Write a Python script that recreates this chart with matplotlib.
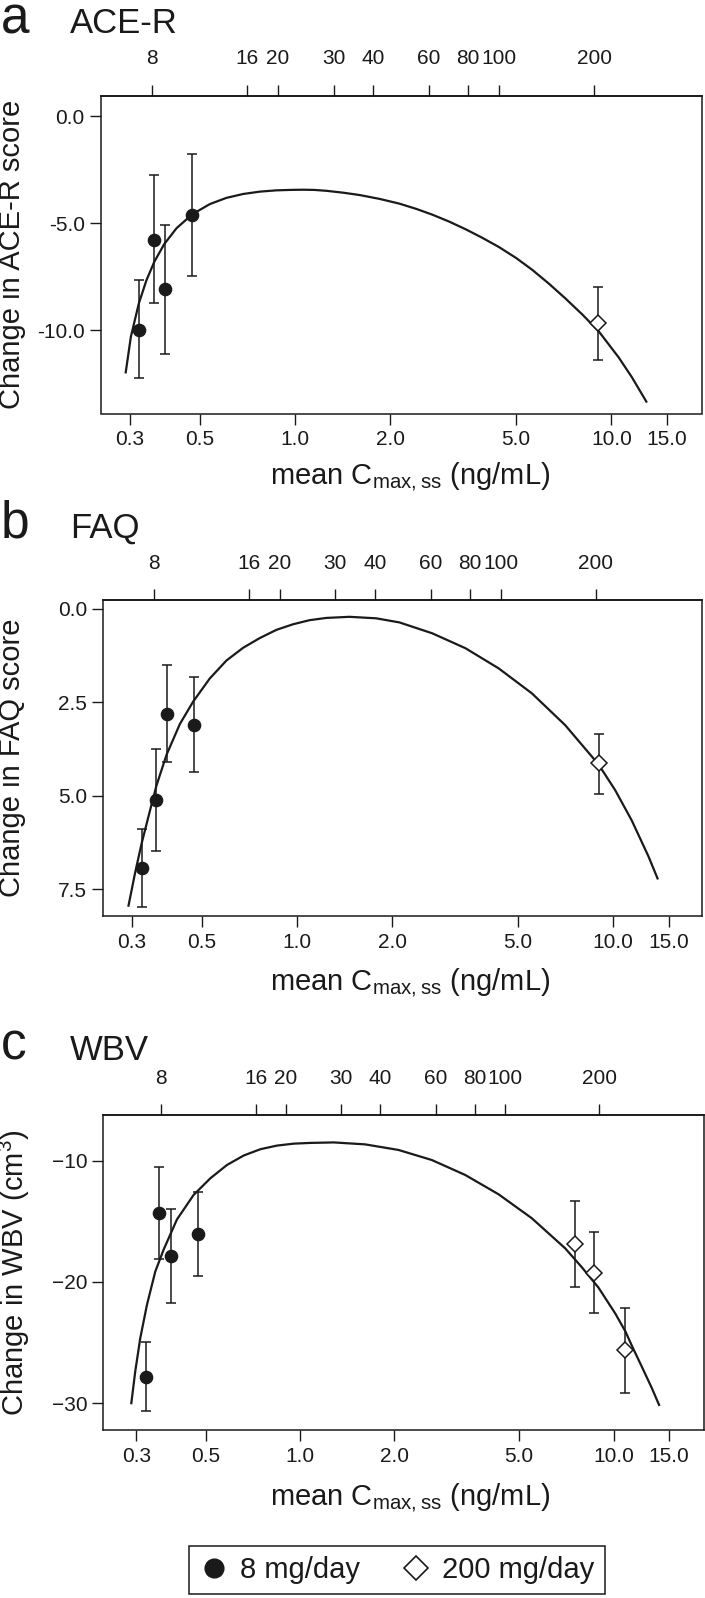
import numpy as np
import matplotlib
matplotlib.use("Agg")
import matplotlib.pyplot as plt
from matplotlib.lines import Line2D
from matplotlib.ticker import NullLocator

plt.rcParams['font.family'] = ['Liberation Sans', 'DejaVu Sans']
plt.rcParams['axes.linewidth'] = 1.1
plt.rcParams['mathtext.fontset'] = 'custom'
plt.rcParams['mathtext.rm'] = 'Liberation Sans'

INK = '#1a1a1a'
W, H = 705, 1598

# ---- data ----
dose_ticks = [8, 16, 20, 30, 40, 60, 80, 100, 200]
x_ticks = [0.3, 0.5, 1.0, 2.0, 5.0, 10.0, 15.0]
x_ticklabels = ['0.3', '0.5', '1.0', '2.0', '5.0', '10.0', '15.0']

# a: ACE-R
ace_low_x = [0.320, 0.358, 0.387, 0.471]
ace_low_y = [-10.0, -5.79, -8.08, -4.60]
ace_low_lo = [-12.21, -8.71, -11.09, -7.45]
ace_low_hi = [-7.66, -2.76, -5.09, -1.78]
ace_high_x = [9.05]
ace_high_y = [-9.66]
ace_high_lo = [-11.40]
ace_high_hi = [-7.98]
ace_curve_x = [0.2905, 0.302, 0.320, 0.338, 0.358, 0.385, 0.421, 0.472, 0.537, 0.606,
               0.684, 0.772, 0.871, 0.96, 1.057, 1.15, 1.253, 1.42, 1.60, 1.85,
               2.135, 2.42, 2.72, 3.07, 3.464, 3.9, 4.414, 5.0, 5.62, 6.35,
               7.16, 8.1, 9.12, 10.55, 11.62, 12.96]
ace_curve_y = [-12.02, -10.3, -8.75, -7.68, -6.81, -5.98, -5.24, -4.59, -4.11, -3.82,
               -3.64, -3.53, -3.47, -3.45, -3.44, -3.45, -3.49, -3.58, -3.69, -3.87,
               -4.09, -4.34, -4.61, -4.93, -5.29, -5.68, -6.12, -6.63, -7.18, -7.83,
               -8.52, -9.27, -10.05, -11.27, -12.2, -13.38]

# b: FAQ
faq_low_x = [0.3226, 0.358, 0.388, 0.472]
faq_low_y = [6.93, 5.12, 2.80, 3.11]
faq_low_lo = [5.90, 3.76, 1.50, 1.82]
faq_low_hi = [7.99, 6.47, 4.10, 4.37]
faq_high_x = [9.05]
faq_high_y = [4.13]
faq_high_lo = [3.34]
faq_high_hi = [4.95]
faq_curve_x = [0.2928, 0.3074, 0.3226, 0.3428, 0.3597, 0.387, 0.4263, 0.4696, 0.5301,
               0.5984, 0.6755, 0.7624, 0.8606, 0.9714, 1.096, 1.238, 1.466, 1.78, 2.109,
               2.676, 3.41, 4.345, 5.536, 7.053, 8.99, 10.15, 11.45, 12.93, 13.86]
faq_curve_y = [7.97, 7.08, 6.28, 5.40, 4.72, 3.90, 3.08, 2.48, 1.86,
               1.38, 1.04, 0.78, 0.56, 0.41, 0.30, 0.24, 0.21, 0.25, 0.36,
               0.65, 1.05, 1.59, 2.26, 3.11, 4.16, 4.85, 5.66, 6.62, 7.24]

# c: WBV
wbv_low_x = [0.3213, 0.3552, 0.388, 0.471]
wbv_low_y = [-27.80, -14.34, -17.86, -16.04]
wbv_low_lo = [-30.63, -18.08, -21.76, -19.51]
wbv_low_hi = [-24.95, -10.52, -13.96, -12.61]
wbv_high_x = [7.56, 8.635, 10.92]
wbv_high_y = [-16.90, -19.23, -25.63]
wbv_high_lo = [-20.41, -22.58, -29.12]
wbv_high_hi = [-13.32, -15.85, -22.14]
wbv_curve_x = [0.2891, 0.2978, 0.309, 0.3245, 0.345, 0.3667, 0.4046, 0.4573, 0.517,
               0.5843, 0.6607, 0.7468, 0.8443, 0.9545, 1.079, 1.281, 1.612, 2.06,
               2.632, 3.363, 4.295, 5.488, 7.013, 7.925, 8.957, 10.12, 10.92, 11.44,
               12.31, 13.26, 14.02]
wbv_curve_y = [-30.08, -27.39, -24.64, -21.9, -19.15, -17.35, -14.85, -12.83, -11.46,
               -10.36, -9.58, -9.06, -8.76, -8.60, -8.54, -8.50, -8.66, -9.12,
               -9.95, -11.18, -12.77, -14.75, -17.23, -18.79, -20.47, -22.58, -24.09, -25.25,
               -26.98, -28.76, -30.22]

fig = plt.figure(figsize=(W / 100, H / 100), dpi=100)


def px_rect(l, t, r, b):
    return [l / W, 1 - b / H, (r - l) / W, (b - t) / H]


def panel(box, xlim, ylim, k, yticks, ylabels, ylab, ylab_x, xlab_y,
          low, high, curve, letter, name, title_y):
    ax = fig.add_axes(px_rect(*box))
    ax.set_xscale('log')
    ax.set_xlim(*xlim)
    ax.set_ylim(*ylim)

    ax.plot(curve[0], curve[1], color=INK, lw=1.6, zorder=2,
            solid_capstyle='butt', solid_joinstyle='round')

    for (x, y, lo, hi), marker in ((low, 'o'), (high, 'D')):
        x = np.array(x); y = np.array(y)
        yerr = [y - np.array(lo), np.array(hi) - y]
        ax.errorbar(x, y, yerr=yerr, fmt='none', ecolor=INK, elinewidth=1.1,
                    capsize=3.5, capthick=1.1, zorder=3)
        if marker == 'o':
            ax.plot(x, y, 'o', ms=8.8, color=INK, zorder=4)
        else:
            ax.plot(x, y, 'D', ms=8.3, mfc='white', mec=INK, mew=1.1, zorder=4)

    ax.set_xticks(x_ticks, labels=x_ticklabels)
    ax.xaxis.set_minor_locator(NullLocator())
    ax.set_yticks(yticks, labels=ylabels)
    ax.tick_params(axis='both', direction='out', length=7.7, width=1.0,
                   labelsize=15, color=INK, labelcolor=INK)
    ax.tick_params(axis='x', pad=4.5)
    ax.tick_params(axis='y', pad=4)
    for s in ax.spines.values():
        s.set_color(INK)

    sec = ax.secondary_xaxis('top', functions=(lambda c, k=k: c / k,
                                               lambda d, k=k: d * k))
    sec.set_xticks(dose_ticks, labels=[str(d) for d in dose_ticks])
    sec.xaxis.set_minor_locator(NullLocator())
    sec.tick_params(direction='out', length=7.7, width=1.0, labelsize=15,
                    pad=12, color=INK, labelcolor=INK)
    sec.spines['top'].set_linewidth(1.1)

    l, t, r, b = box
    ax.set_xlabel(r'mean C$_{\mathregular{max,ss}}$ (ng/mL)', fontsize=21,
                  color=INK, va='center')
    ax.xaxis.set_label_coords((410 - l) / (r - l), -(xlab_y - b) / (b - t))
    ax.set_ylabel(ylab, fontsize=21, color=INK, va='center')
    ax.yaxis.set_label_coords((ylab_x - l) / (r - l), 0.5)

    fig.text(1 / W, 1 - title_y / H, letter, fontsize=37, color=INK,
             ha='left', va='baseline')
    fig.text(70 / W, 1 - title_y / H, name, fontsize=25, color=INK,
             ha='left', va='baseline')
    return ax


panel((101, 95.7, 702, 413.5), (0.2429, 19.36), (-13.89, 0.95), 0.0441,
      [0, -5, -10], ['0.0', '-5.0', '-10.0'], 'Change in ACE-R score', 12, 476,
      (ace_low_x, ace_low_y, ace_low_lo, ace_low_hi),
      (ace_high_x, ace_high_y, ace_high_lo, ace_high_hi),
      (ace_curve_x, ace_curve_y), 'a', 'ACE-R', 33)

panel((103.3, 600, 702, 915.7), (0.2441, 19.1), (8.21, -0.24), 0.0441,
      [0, 2.5, 5, 7.5], ['0.0', '2.5', '5.0', '7.5'], 'Change in FAQ score', 12, 983,
      (faq_low_x, faq_low_y, faq_low_lo, faq_low_hi),
      (faq_high_x, faq_high_y, faq_high_lo, faq_high_hi),
      (faq_curve_x, faq_curve_y), 'b', 'FAQ', 538)

panel((103.5, 1115, 703.5, 1430), (0.2359, 19.37), (-32.2, -6.24), 0.0451,
      [-10, -20, -30], ['\u221210', '\u221220', '\u221230'],
      r'Change in WBV (cm$^{\mathregular{3}}$)', 14, 1498,
      (wbv_low_x, wbv_low_y, wbv_low_lo, wbv_low_hi),
      (wbv_high_x, wbv_high_y, wbv_high_lo, wbv_high_hi),
      (wbv_curve_x, wbv_curve_y), 'c', 'WBV', 1060)

handles = [Line2D([], [], ls='none', marker='o', ms=13.5, color=INK),
           Line2D([], [], ls='none', marker='D', ms=12.5, mfc='white', mec=INK, mew=1.2)]
leg = fig.legend(handles, ['8 mg/day', '200 mg/day'], loc='center',
                 bbox_to_anchor=(397 / W, 1 - 1570 / H), ncol=2, fontsize=21,
                 frameon=True, fancybox=False, edgecolor=INK, framealpha=1,
                 handlelength=1.0, handletextpad=0.4, columnspacing=1.4,
                 borderpad=0.35)
leg.get_frame().set_linewidth(1.1)
for t in leg.get_texts():
    t.set_color(INK)

fig.savefig('out.png', dpi=100)
